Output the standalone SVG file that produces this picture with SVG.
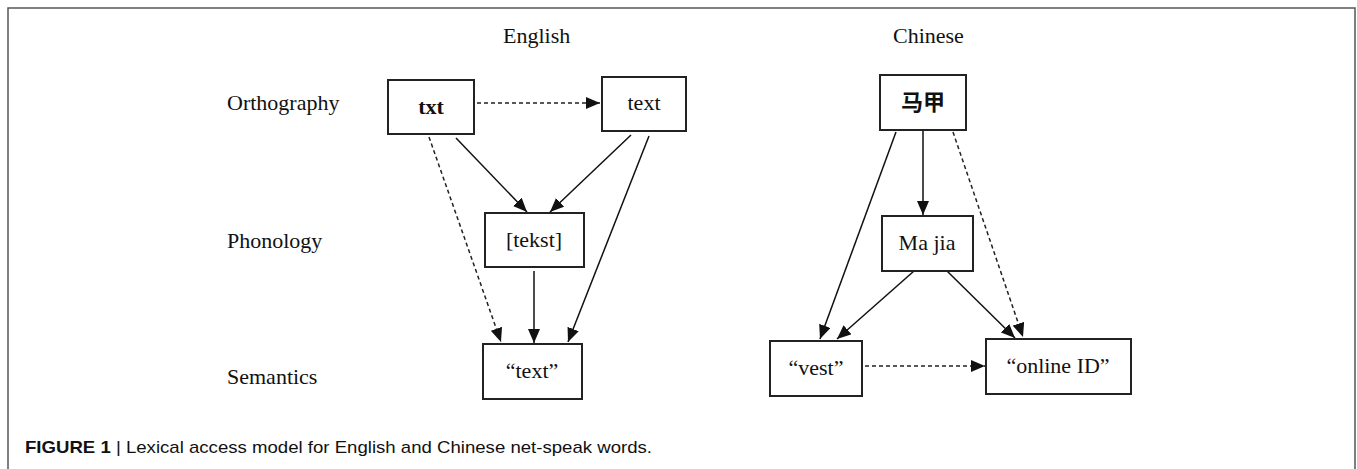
<svg xmlns="http://www.w3.org/2000/svg" width="1357" height="469" viewBox="0 0 1357 469">
<style>
.frame{fill:none;stroke:#555;stroke-width:1.5}
.box{fill:#fff;stroke:#222;stroke-width:2}
.lbl{font-family:"Liberation Serif","Times New Roman",serif;font-size:22px;fill:#111}
.nt{font-family:"Liberation Serif","Times New Roman",serif;font-size:22px;fill:#111;text-anchor:middle}
.bold{font-weight:bold}
.cjk{font-family:"Noto Sans CJK SC",sans-serif;font-size:22px;font-weight:bold;fill:#111;text-anchor:middle}
.solid{stroke:#111;stroke-width:1.5;fill:none}
.dash{stroke:#222;stroke-width:1.5;fill:none;stroke-dasharray:4 3}
.cap{font-family:"Liberation Sans",Arial,sans-serif;font-size:17px;fill:#111}
</style>
<defs>
<marker id="ah" viewBox="0 0 14 12" refX="14" refY="6" markerWidth="14" markerHeight="12" markerUnits="userSpaceOnUse" orient="auto">
<path d="M0,0 L14,6 L0,12 z" fill="#111"/>
</marker>
</defs>
<rect width="1357" height="469" fill="#fff"/>
<path class="frame" d="M8,472 L8,8 L1355,8 L1355,472"/>
<g id="labels">
<text class="lbl" x="503" y="43">English</text>
<text class="lbl" x="893" y="43">Chinese</text>
<text class="lbl" x="227" y="110">Orthography</text>
<text class="lbl" x="227" y="248">Phonology</text>
<text class="lbl" x="227" y="384">Semantics</text>
</g>
<g id="connectors">
<line class="dash" x1="477" y1="103" x2="600" y2="103" marker-end="url(#ah)"/>
<line class="solid" x1="456" y1="138" x2="527" y2="212" marker-end="url(#ah)"/>
<line class="solid" x1="631" y1="135" x2="550" y2="212" marker-end="url(#ah)"/>
<line class="dash" x1="429" y1="137" x2="501" y2="342" marker-end="url(#ah)"/>
<line class="solid" x1="534" y1="271" x2="534" y2="343" marker-end="url(#ah)"/>
<line class="solid" x1="649" y1="136" x2="568" y2="342" marker-end="url(#ah)"/>
<line class="solid" x1="923" y1="131" x2="923" y2="215" marker-end="url(#ah)"/>
<line class="solid" x1="896" y1="132" x2="820" y2="339" marker-end="url(#ah)"/>
<line class="dash" x1="953" y1="132" x2="1023" y2="337" marker-end="url(#ah)"/>
<line class="solid" x1="914" y1="271" x2="837" y2="339" marker-end="url(#ah)"/>
<line class="solid" x1="947" y1="271" x2="1015" y2="338" marker-end="url(#ah)"/>
<line class="dash" x1="865" y1="366" x2="985" y2="366" marker-end="url(#ah)"/>
</g>
<g id="node-txt">
<rect class="box" x="388" y="80" width="86" height="54"/>
<text class="nt bold" x="431" y="114">txt</text>
</g>
<g id="node-text">
<rect class="box" x="602" y="77" width="84" height="54"/>
<text class="nt" x="644" y="110">text</text>
</g>
<g id="node-tekst">
<rect class="box" x="485" y="213" width="99" height="54"/>
<text class="nt" x="534" y="247">[tekst]</text>
</g>
<g id="node-text-sem">
<rect class="box" x="483" y="344" width="99" height="55"/>
<text class="nt" x="532" y="378">“text”</text>
</g>
<g id="node-maja">
<rect class="box" x="880" y="75" width="86" height="55"/>
<text class="cjk" x="923" y="110">马甲</text>
</g>
<g id="node-majia">
<rect class="box" x="882" y="216" width="91" height="55"/>
<text class="nt" x="927" y="250">Ma jia</text>
</g>
<g id="node-vest">
<rect class="box" x="770" y="341" width="92" height="55"/>
<text class="nt" x="816" y="375">“vest”</text>
</g>
<g id="node-online">
<rect class="box" x="986" y="339" width="145" height="55"/>
<text class="nt" x="1058" y="373">“online ID”</text>
</g>
<g id="caption">
<text class="cap" x="25" y="453" textLength="627" lengthAdjust="spacingAndGlyphs"><tspan font-weight="bold">FIGURE 1</tspan> | Lexical access model for English and Chinese net-speak words.</text>
</g>
</svg>
